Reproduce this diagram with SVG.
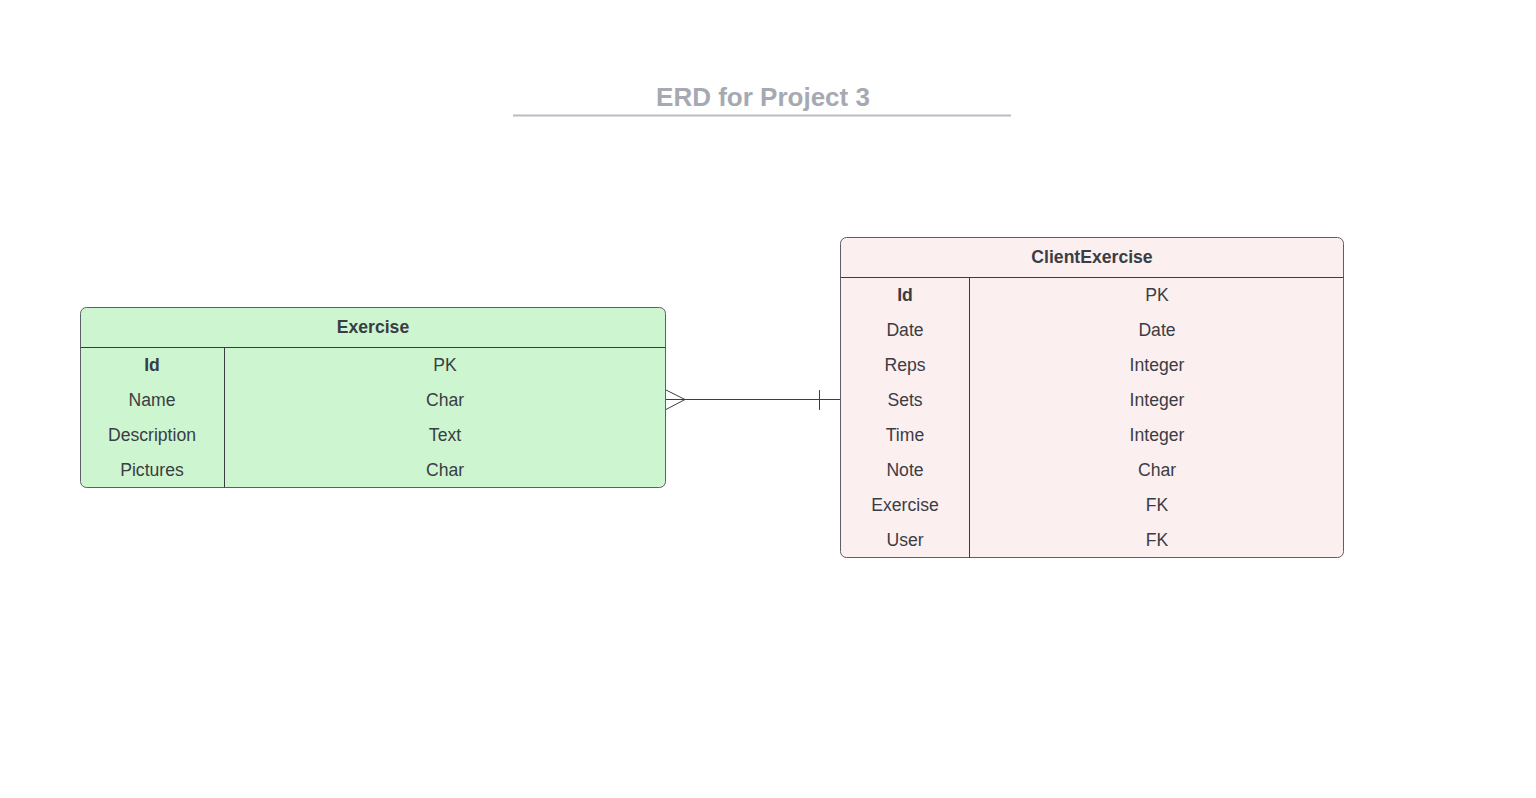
<svg xmlns="http://www.w3.org/2000/svg" width="1536" height="798" viewBox="0 0 1536 798">
<style>
text{font-family:"Liberation Sans",Arial,sans-serif;fill:#3a3d44;font-size:17.6px;text-anchor:middle}
.b{font-weight:bold}
.box{stroke:#5c5f66;stroke-width:1}
.ln{stroke:#3a3d44;stroke-width:1;fill:none}
.title{font-size:26px;font-weight:bold;fill:#a6a9b2}
</style>
<rect width="1536" height="798" fill="#ffffff"/>
<g id="title">
<text class="title" x="763" y="106">ERD for Project 3</text>
<line x1="513" y1="115.5" x2="1011" y2="115.5" stroke="#b8bbc4" stroke-width="2"/>
</g>
<g id="exercise">
<rect class="box" x="80.5" y="307.5" width="585" height="180" rx="6" fill="#cdf5d0"/>
<line class="ln" x1="80.5" y1="347.5" x2="665.5" y2="347.5"/>
<line class="ln" x1="224.5" y1="347.5" x2="224.5" y2="487.5"/>
<text class="b" x="373" y="333">Exercise</text>
<text class="b" x="152" y="371">Id</text><text x="445" y="371">PK</text>
<text x="152" y="406">Name</text><text x="445" y="406">Char</text>
<text x="152" y="441">Description</text><text x="445" y="441">Text</text>
<text x="152" y="476">Pictures</text><text x="445" y="476">Char</text>
</g>
<g id="clientexercise">
<rect class="box" x="840.5" y="237.5" width="503" height="320" rx="6" fill="#fcefef"/>
<line class="ln" x1="840.5" y1="277.5" x2="1343.5" y2="277.5"/>
<line class="ln" x1="969.5" y1="277.5" x2="969.5" y2="557.5"/>
<text class="b" x="1092" y="263">ClientExercise</text>
<text class="b" x="905" y="301">Id</text><text x="1157" y="301">PK</text>
<text x="905" y="336">Date</text><text x="1157" y="336">Date</text>
<text x="905" y="371">Reps</text><text x="1157" y="371">Integer</text>
<text x="905" y="406">Sets</text><text x="1157" y="406">Integer</text>
<text x="905" y="441">Time</text><text x="1157" y="441">Integer</text>
<text x="905" y="476">Note</text><text x="1157" y="476">Char</text>
<text x="905" y="511">Exercise</text><text x="1157" y="511">FK</text>
<text x="905" y="546">User</text><text x="1157" y="546">FK</text>
</g>
<g id="connectors">
<line class="ln" x1="666" y1="399.5" x2="840" y2="399.5"/>
<path class="ln" d="M666 390 L685 399.5 L666 409.5"/>
<line class="ln" x1="819.5" y1="390" x2="819.5" y2="410"/>
</g>
</svg>
